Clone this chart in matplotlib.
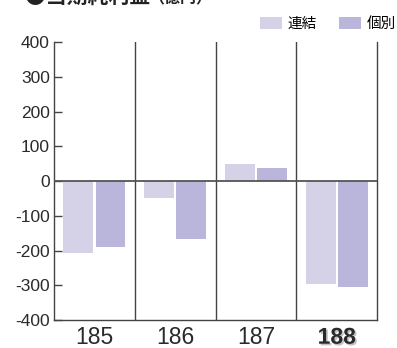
import matplotlib.pyplot as plt
import matplotlib.patheffects as pe
import numpy as np

plt.rcParams['font.family'] = ['Liberation Sans', 'Noto Sans CJK JP', 'DejaVu Sans']

# 当期純利益（億円）
periods = ['185', '186', '187', '188']
consolidated = [-206, -48, 50, -295]
standalone = [-189, -166, 39, -304]
series_names = ['連結', '個別']
colors = ['#d5d2e8', '#b9b5db']
yticks = [-400, -300, -200, -100, 0, 100, 200, 300, 400]

fig = plt.figure(figsize=(3.97, 3.48), dpi=100)
ax = fig.add_axes([0.136, 0.080, 0.814, 0.799])

x = np.arange(len(periods))
w = 0.37
off = 0.2
b1 = ax.bar(x - off, consolidated, w, color=colors[0], label=series_names[0], zorder=2)
b2 = ax.bar(x + off, standalone, w, color=colors[1], label=series_names[1], zorder=2)

ax.set_xlim(-0.5, len(periods) - 0.5)
ax.set_ylim(-400, 400)

# group dividers and zero line
for d in x[:-1] + 0.5:
    ax.axvline(d, color='#444444', lw=1.0, zorder=3)
ax.axhline(0, color='#555555', lw=1.3, zorder=3)

for side in ['left', 'right', 'bottom']:
    ax.spines[side].set_color('#444444')
    ax.spines[side].set_linewidth(1.0)
ax.spines['top'].set_visible(False)

ax.set_yticks(yticks)
ax.set_yticklabels([str(v) for v in yticks])
ax.tick_params(axis='y', direction='in', length=6, width=1, color='#444444',
               labelsize=12.5, labelcolor='#2a2a2a', pad=3)
ax.set_xticks(x)
ax.set_xticklabels(periods)
ax.tick_params(axis='x', length=0, labelsize=16.5, labelcolor='#2a2a2a', pad=4)
last = ax.get_xticklabels()[-1]
last.set_fontweight('bold')
last.set_path_effects([pe.withSimplePatchShadow(offset=(1.2, -1.2), shadow_rgbFace='#999999', alpha=0.6)])

ax.legend(handles=[b1, b2], ncol=2, frameon=False, loc='upper right',
          bbox_to_anchor=(1.03, 0.99), bbox_transform=fig.transFigure,
          handlelength=1.5, handleheight=0.9, handletextpad=0.4,
          columnspacing=1.5, prop={'family': ['Noto Sans CJK JP'], 'size': 10.5})

# heading, partly cut off by the top edge
fig.text(0.063, 0.992, '●当期純利益', fontsize=15, fontweight='bold',
         family=['Noto Sans CJK JP'], color='#222222', va='baseline')
fig.text(0.374, 0.992, '（億円）', fontsize=11.5, fontweight='bold',
         family=['Noto Sans CJK JP'], color='#222222', va='baseline')

fig.savefig('out.png', dpi=100, facecolor='white')
